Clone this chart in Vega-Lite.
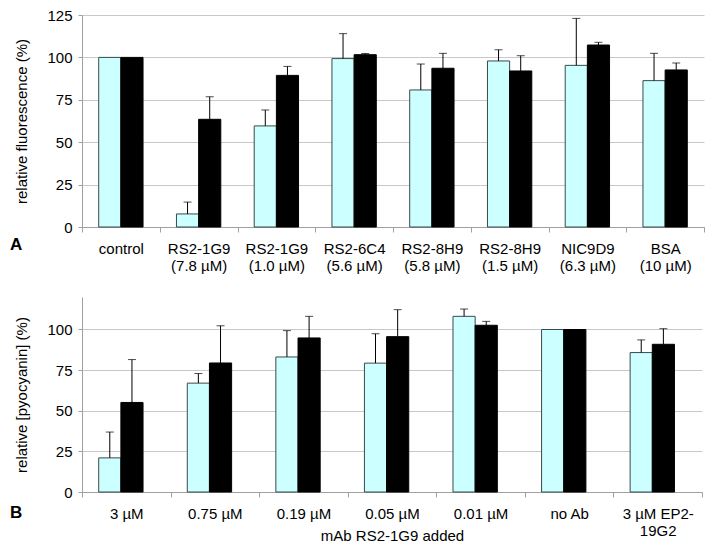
{
  "$schema": "https://vega.github.io/schema/vega-lite/v6.json",
  "padding": {"left": 9, "top": 8, "right": 8, "bottom": 4},
  "background": "white",
  "config": {
    "font": "Liberation Sans",
    "view": {"stroke": null},
    "axis": {"labelFont": "Liberation Sans", "titleFont": "Liberation Sans", "labelFontSize": 15, "titleFontSize": 15, "titleFontWeight": "normal", "labelColor": "#000", "titleColor": "#000", "domainColor": "#a0a0a0", "tickColor": "#a0a0a0", "gridColor": "#c8c8c8"}
  },
  "datasets": {
    "top": [
      {"group": "control", "series": "a", "value": 100, "err": null},
      {"group": "control", "series": "b", "value": 100, "err": null},
      {"group": "RS2-1G9|(7.8 µM)", "series": "a", "value": 7.7, "err": 14.7},
      {"group": "RS2-1G9|(7.8 µM)", "series": "b", "value": 63.5, "err": 76.8},
      {"group": "RS2-1G9|(1.0 µM)", "series": "a", "value": 59.6, "err": 69},
      {"group": "RS2-1G9|(1.0 µM)", "series": "b", "value": 89.4, "err": 94.7},
      {"group": "RS2-6C4|(5.6 µM)", "series": "a", "value": 99.3, "err": 114},
      {"group": "RS2-6C4|(5.6 µM)", "series": "b", "value": 101.6, "err": 102.3},
      {"group": "RS2-8H9|(5.8 µM)", "series": "a", "value": 80.8, "err": 96.1},
      {"group": "RS2-8H9|(5.8 µM)", "series": "b", "value": 93.6, "err": 102.4},
      {"group": "RS2-8H9|(1.5 µM)", "series": "a", "value": 97.9, "err": 104.5},
      {"group": "RS2-8H9|(1.5 µM)", "series": "b", "value": 92, "err": 101},
      {"group": "NIC9D9|(6.3 µM)", "series": "a", "value": 95.3, "err": 123},
      {"group": "NIC9D9|(6.3 µM)", "series": "b", "value": 107.3, "err": 108.9},
      {"group": "BSA|(10 µM)", "series": "a", "value": 86.3, "err": 102.4},
      {"group": "BSA|(10 µM)", "series": "b", "value": 92.6, "err": 96.7}
    ],
    "bottom": [
      {"group": "3 µM", "series": "a", "value": 21, "err": 36.9},
      {"group": "3 µM", "series": "b", "value": 55.1, "err": 81.5},
      {"group": "0.75 µM", "series": "a", "value": 67, "err": 72.9},
      {"group": "0.75 µM", "series": "b", "value": 79.4, "err": 102.3},
      {"group": "0.19 µM", "series": "a", "value": 83.1, "err": 99.3},
      {"group": "0.19 µM", "series": "b", "value": 94.8, "err": 108.1},
      {"group": "0.05 µM", "series": "a", "value": 79.3, "err": 97.4},
      {"group": "0.05 µM", "series": "b", "value": 95.6, "err": 112.2},
      {"group": "0.01 µM", "series": "a", "value": 108.1, "err": 112.6},
      {"group": "0.01 µM", "series": "b", "value": 102.6, "err": 105},
      {"group": "no Ab", "series": "a", "value": 100, "err": null},
      {"group": "no Ab", "series": "b", "value": 100, "err": null},
      {"group": "3 µM EP2-|19G2", "series": "a", "value": 85.8, "err": 93.6},
      {"group": "3 µM EP2-|19G2", "series": "b", "value": 90.9, "err": 100.5}
    ]
  },
  "vconcat": [
    {
      "width": 622,
      "height": 212,
      "data": {"name": "top"},
      "title": {"text": "A", "orient": "bottom", "anchor": "start", "frame": "bounds", "font": "Liberation Sans", "fontSize": 17, "fontWeight": "bold", "color": "#000", "dy": -40, "dx": -5},
      "encoding": {
        "x": {"field": "group", "type": "nominal", "sort": null, "title": null,
          "scale": {"paddingInner": 0, "paddingOuter": 0},
          "axis": {"labelAngle": 0, "tickBand": "extent", "tickSize": 5, "labelPadding": 9, "labelLineHeight": 17, "labelExpr": "split(datum.label, '|')"}},
        "xOffset": {"field": "series", "type": "nominal", "scale": {"paddingInner": 0, "paddingOuter": 0.754}}
      },
      "layer": [
        {
          "mark": {"type": "bar", "strokeWidth": 1},
          "encoding": {
            "y": {"field": "value", "type": "quantitative", "title": "relative fluorescence (%)",
              "scale": {"domain": [0, 125], "nice": false},
              "axis": {"values": [0, 25, 50, 75, 100, 125], "tickSize": 4, "labelPadding": 6, "titlePadding": 17, "grid": true}},
            "fill": {"field": "series", "type": "nominal", "scale": {"domain": ["a", "b"], "range": ["#ccffff", "#000000"]}, "legend": null},
            "stroke": {"field": "series", "type": "nominal", "scale": {"domain": ["a", "b"], "range": ["#3a4a4a", "#000000"]}, "legend": null}
          }
        },
        {
          "transform": [{"filter": "datum.err != null"}],
          "mark": {"type": "rule", "color": "#000", "strokeWidth": 1},
          "encoding": {"y": {"field": "value", "type": "quantitative"}, "y2": {"field": "err"}}
        },
        {
          "transform": [{"filter": "datum.err != null"}],
          "mark": {"type": "tick", "color": "#000", "thickness": 1, "size": 8},
          "encoding": {"y": {"field": "err", "type": "quantitative"}}
        }
      ]
    },
    {
      "width": 620,
      "height": 195,
      "data": {"name": "bottom"},
      "title": {"text": "B", "orient": "bottom", "anchor": "start", "frame": "bounds", "font": "Liberation Sans", "fontSize": 17, "fontWeight": "bold", "color": "#000", "dy": -42, "dx": -5},
      "encoding": {
        "x": {"field": "group", "type": "nominal", "sort": null, "title": "mAb RS2-1G9 added",
          "scale": {"paddingInner": 0, "paddingOuter": 0},
          "axis": {"labelAngle": 0, "tickBand": "extent", "tickSize": 5, "labelPadding": 9, "labelLineHeight": 17, "titlePadding": -10, "labelExpr": "split(datum.label, '|')"}},
        "xOffset": {"field": "series", "type": "nominal", "scale": {"paddingInner": 0, "paddingOuter": 0.695}}
      },
      "layer": [
        {
          "mark": {"type": "bar", "strokeWidth": 1},
          "encoding": {
            "y": {"field": "value", "type": "quantitative", "title": "relative [pyocyanin] (%)",
              "scale": {"domain": [0, 120], "nice": false},
              "axis": {"values": [0, 25, 50, 75, 100], "tickSize": 4, "labelPadding": 6, "titlePadding": 17, "grid": true}},
            "fill": {"field": "series", "type": "nominal", "scale": {"domain": ["a", "b"], "range": ["#ccffff", "#000000"]}, "legend": null},
            "stroke": {"field": "series", "type": "nominal", "scale": {"domain": ["a", "b"], "range": ["#3a4a4a", "#000000"]}, "legend": null}
          }
        },
        {
          "transform": [{"filter": "datum.err != null"}],
          "mark": {"type": "rule", "color": "#000", "strokeWidth": 1},
          "encoding": {"y": {"field": "value", "type": "quantitative"}, "y2": {"field": "err"}}
        },
        {
          "transform": [{"filter": "datum.err != null"}],
          "mark": {"type": "tick", "color": "#000", "thickness": 1, "size": 8},
          "encoding": {"y": {"field": "err", "type": "quantitative"}}
        }
      ]
    }
  ],
  "spacing": 24
}
